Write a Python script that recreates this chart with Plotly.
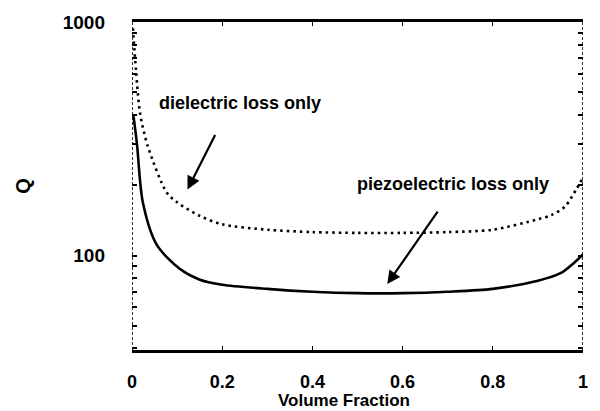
import numpy as np
import plotly.graph_objects as go

# Quality factor Q versus volume fraction for two loss mechanisms
vf_dielectric = [0.002, 0.009, 0.018, 0.035, 0.077, 0.10, 0.15, 0.20, 0.30, 0.40,
                 0.50, 0.60, 0.70, 0.80, 0.90, 0.93, 0.96, 0.985, 1.0]
q_dielectric = [940, 616, 405, 294, 186, 169, 148, 136, 129, 126,
                125, 125, 126, 129, 143, 149, 162, 192, 215]

vf_piezo = [0.003, 0.011, 0.024, 0.055, 0.105, 0.149, 0.20, 0.30, 0.40, 0.50,
            0.60, 0.70, 0.80, 0.90, 0.95, 0.98, 1.0]
q_piezo = [400, 300, 169, 111, 88, 79, 75, 72, 70, 69,
           69, 70, 72, 78, 84, 93, 101]

y_major = [100, 1000]
y_ticks = [40, 50, 60, 70, 80, 90, 100, 200, 300, 400, 500, 600, 700, 800, 900, 1000]
y_ticktext = [str(v) if v in y_major else "" for v in y_ticks]
x_ticks = [0, 0.2, 0.4, 0.6, 0.8, 1]
x_ticktext = ["0", "0.2", "0.4", "0.6", "0.8", "1"]

FONT = "Liberation Sans, Arial, sans-serif"

fig = go.Figure()
fig.add_trace(go.Scatter(
    x=vf_dielectric, y=q_dielectric, mode="lines",
    line=dict(color="black", width=2.6, dash="2.5px,4px", shape="spline", smoothing=0.8),
    name="dielectric loss only", showlegend=False))
fig.add_trace(go.Scatter(
    x=vf_piezo, y=q_piezo, mode="lines",
    line=dict(color="black", width=2.6, shape="spline", smoothing=0.8),
    name="piezoelectric loss only", showlegend=False))

ylo, yhi = np.log10(39.4), 3.0

# dashed side borders of the frame
for xv in (0, 1):
    fig.add_shape(type="line", xref="x", yref="paper", x0=xv, x1=xv, y0=0, y1=1,
                  line=dict(color="black", width=1.6, dash="3px,2px"))
# longer tick at Q = 100 on the right border
fig.add_shape(type="line", xref="x", yref="y", x0=0.985, x1=1, y0=2.0, y1=2.0,
              line=dict(color="black", width=2))

annotations = [
    dict(text="dielectric loss only", x=0.239, y=2.654),
    dict(text="piezoelectric loss only", x=0.711, y=2.308),
]
for a in annotations:
    fig.add_annotation(x=a["x"], y=a["y"], xref="x", yref="y", text=a["text"],
                       showarrow=False,
                       font=dict(family=FONT, size=18, color="black", weight="bold"))

arrows = [
    dict(x=0.123, y=2.283, ax=0.186, ay=2.523),
    dict(x=0.566, y=1.878, ax=0.680, ay=2.194),
]
for a in arrows:
    fig.add_annotation(x=a["x"], y=a["y"], ax=a["ax"], ay=a["ay"],
                       xref="x", yref="y", axref="x", ayref="y", text="",
                       showarrow=True, arrowhead=2, arrowsize=1.2, arrowwidth=2.2,
                       arrowcolor="black")

# x-axis title, set slightly left of the axis centre
fig.add_annotation(x=0.47, y=-0.155, xref="paper", yref="paper",
                   text="Volume Fraction", showarrow=False,
                   xanchor="center", yanchor="middle",
                   font=dict(family=FONT, size=17, color="black", weight="bold"))

fig.update_xaxes(
    range=[0, 1], tickvals=x_ticks, ticktext=x_ticktext,
    showline=True, linecolor="black", linewidth=3, mirror="ticks",
    ticks="inside", ticklen=4, tickcolor="black", tickwidth=1,
    showgrid=False, zeroline=False, ticklabelstandoff=13,
    tickfont=dict(family=FONT, size=18, color="black", weight="bold"))
fig.update_yaxes(
    type="log", range=[ylo, yhi], tickvals=y_ticks, ticktext=y_ticktext,
    showline=False, mirror="ticks",
    ticks="inside", ticklen=5, tickcolor="black", tickwidth=1.5,
    showgrid=False, zeroline=False, ticklabelstandoff=26,
    tickfont=dict(family=FONT, size=19, color="black", weight="bold"),
    title=dict(text="Q", standoff=26,
               font=dict(family=FONT, size=20, color="black", weight="bold")))

fig.update_layout(
    width=600, height=411,
    margin=dict(l=132, r=12, t=17, b=61),
    plot_bgcolor="white", paper_bgcolor="white",
    font=dict(family=FONT, color="black"))

fig.write_html("out.html")
